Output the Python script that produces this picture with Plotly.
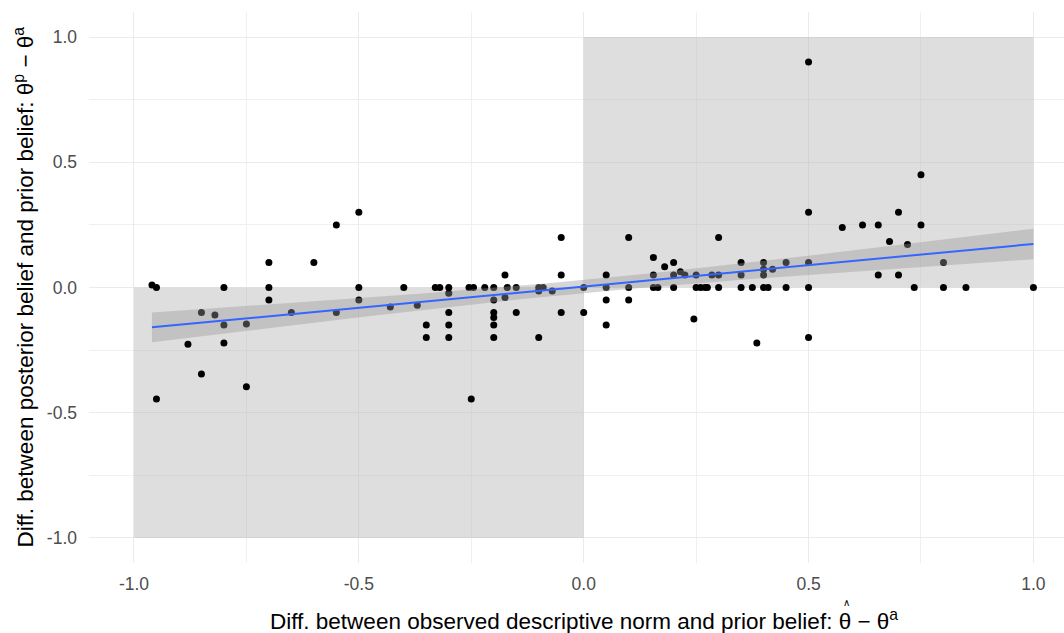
import numpy as np
import plotly.graph_objects as go

# Data (x: observed norm - prior, y: posterior - prior)
x_vals = [-0.96, -0.95, -0.95, -0.88, -0.85, -0.85, -0.82, -0.80, -0.80, -0.80,
          -0.75, -0.75, -0.70, -0.70, -0.70, -0.65, -0.60, -0.55, -0.55, -0.50,
          -0.50, -0.50, -0.43, -0.40, -0.37, -0.35, -0.35, -0.33, -0.32, -0.30,
          -0.30, -0.30, -0.30, -0.30, -0.255, -0.245, -0.25, -0.22, -0.20, -0.20,
          -0.20, -0.20, -0.20, -0.20, -0.175, -0.175, -0.17, -0.15, -0.15, -0.10,
          -0.09, -0.10, -0.10, -0.07, -0.05, -0.05, -0.05, 0.0, 0.0, 0.05,
          0.05, 0.05, 0.05, 0.10, 0.10, 0.10, 0.155, 0.155, 0.155, 0.165,
          0.18, 0.20, 0.20, 0.20, 0.215, 0.225, 0.245, 0.25, 0.25, 0.26,
          0.27, 0.275, 0.285, 0.30, 0.30, 0.30, 0.35, 0.35, 0.35, 0.375,
          0.385, 0.40, 0.40, 0.40, 0.40, 0.41, 0.42, 0.45, 0.45, 0.50,
          0.50, 0.50, 0.50, 0.50, 0.575, 0.62, 0.655, 0.655, 0.68, 0.70,
          0.70, 0.72, 0.735, 0.75, 0.75, 0.80, 0.80, 0.85, 1.0]
y_vals = [0.01, 0.0, -0.445, -0.227, -0.10, -0.345, -0.11, 0.0, -0.15, -0.222,
          -0.146, -0.396, 0.10, 0.0, -0.05, -0.10, 0.10, 0.25, -0.10, 0.30,
          0.0, -0.05, -0.078, 0.0, -0.071, -0.15, -0.20, 0.0, 0.0, 0.0,
          -0.023, -0.10, -0.15, -0.20, 0.0, 0.0, -0.445, 0.0, 0.0, -0.05,
          -0.10, -0.12, -0.15, -0.20, 0.05, -0.04, 0.0, 0.0, -0.10, 0.0,
          0.0, -0.014, -0.20, -0.014, 0.20, 0.05, -0.10, 0.0, -0.10, 0.05,
          0.0, -0.05, -0.15, 0.20, 0.0, -0.05, 0.12, 0.05, 0.0, 0.0,
          0.083, 0.10, 0.05, 0.0, 0.063, 0.05, -0.126, 0.05, 0.0, 0.0,
          0.0, 0.0, 0.05, 0.20, 0.05, 0.0, 0.10, 0.05, 0.0, 0.0,
          -0.222, 0.10, 0.073, 0.05, 0.0, 0.0, 0.073, 0.10, 0.0, 0.90,
          0.30, 0.10, 0.0, -0.20, 0.24, 0.25, 0.25, 0.05, 0.184, 0.30,
          0.05, 0.172, 0.0, 0.45, 0.25, 0.10, 0.0, 0.0, 0.0]

tick_vals = [-1.0, -0.5, 0.0, 0.5, 1.0]
tick_text = ["-1.0", "-0.5", "0.0", "0.5", "1.0"]

FONT = "Liberation Sans, Arial, sans-serif"

# Linear fit with 95% confidence band (like geom_smooth(method="lm"))
x = np.array(x_vals)
y = np.array(y_vals)
n = len(x)
b1, b0 = np.polyfit(x, y, 1)
resid = y - (b0 + b1 * x)
s = np.sqrt(np.sum(resid ** 2) / (n - 2))
xg = np.linspace(x.min(), x.max(), 80)
yg = b0 + b1 * xg
se = s * np.sqrt(1.0 / n + (xg - x.mean()) ** 2 / np.sum((x - x.mean()) ** 2))
tq = 1.98
lo = yg - tq * se
hi = yg + tq * se

fig = go.Figure()
fig.add_trace(go.Scatter(x=x_vals, y=y_vals, mode="markers",
                         marker=dict(color="black", size=7), showlegend=False,
                         hoverinfo="x+y"))
fig.add_trace(go.Scatter(x=np.concatenate([xg, xg[::-1]]),
                         y=np.concatenate([hi, lo[::-1]]),
                         fill="toself", fillcolor="rgba(153,153,153,0.4)",
                         line=dict(width=0), mode="lines", showlegend=False,
                         hoverinfo="skip"))
fig.add_trace(go.Scatter(x=xg, y=yg, mode="lines",
                         line=dict(color="#3366FF", width=2), showlegend=False))

# shaded quadrants
fig.add_shape(type="rect", x0=-1, x1=0, y0=-1, y1=0, xref="x", yref="y",
              fillcolor="rgba(182,182,182,0.45)", line=dict(width=0), layer="between")
fig.add_shape(type="rect", x0=0, x1=1, y0=0, y1=1, xref="x", yref="y",
              fillcolor="rgba(182,182,182,0.45)", line=dict(width=0), layer="between")

axis_common = dict(
    tickvals=tick_vals, ticktext=tick_text, showgrid=True, gridcolor="#EBEBEB",
    gridwidth=1.1, zeroline=False, showline=False, ticks="",
    tickfont=dict(family=FONT, size=17.5, color="#4D4D4D"),
    minor=dict(dtick=0.25, tick0=0, showgrid=True, gridcolor="#F0F0F0", gridwidth=0.6),
)
fig.update_xaxes(range=[-1.1, 1.068], ticklabelstandoff=8, **axis_common)
fig.update_yaxes(range=[-1.1, 1.1], ticklabelstandoff=11, **axis_common)

fig.add_annotation(text="Diff. between observed descriptive norm and prior belief: θ − θ<sup>a</sup>",
                   xref="x", yref="paper", x=0.0, y=-0.103, showarrow=False,
                   xanchor="center", yanchor="middle",
                   font=dict(family=FONT, size=22.5, color="black"))
# hat over theta
fig.add_annotation(text="∧", xref="paper", yref="paper",
                   x=(846 - 89) / 975, y=(563 - 602) / 551, showarrow=False,
                   xanchor="center", yanchor="middle",
                   font=dict(family=FONT, size=10, color="black"))
fig.add_annotation(text="Diff. between posterior belief and prior belief: θ<sup>p</sup> − θ<sup>a</sup>",
                   xref="paper", yref="paper", x=(23 - 89) / 975, y=0.5, showarrow=False,
                   textangle=-90, xanchor="center", yanchor="middle",
                   font=dict(family=FONT, size=22.5, color="black"))

fig.update_layout(width=1064, height=633, plot_bgcolor="white", paper_bgcolor="white",
                  margin=dict(l=89, r=0, t=12, b=70), showlegend=False)
fig.write_html("out.html")
